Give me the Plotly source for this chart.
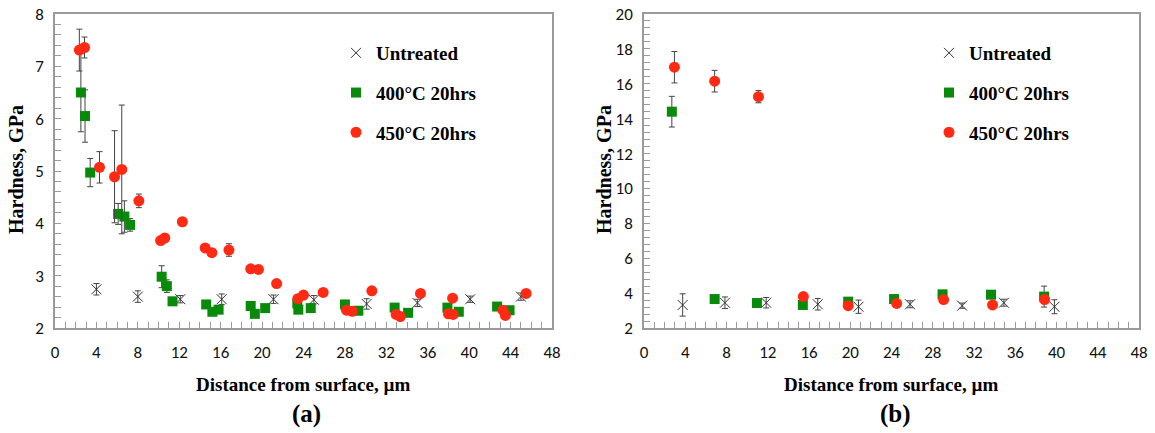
import plotly.graph_objects as go

# ---------------- data: panel (a) ----------------
a_untreated_x = [4.0, 8.0, 12.1, 16.1, 21.1, 25.0, 30.1, 35.0, 40.1, 45.0]
a_untreated_y = [2.74, 2.60, 2.55, 2.55, 2.55, 2.54, 2.46, 2.48, 2.55, 2.60]
a_untreated_e = [0.11, 0.11, 0.07, 0.10, 0.08, 0.08, 0.10, 0.07, 0.06, 0.07]

a_400_x = [2.5, 2.9, 3.4, 6.1, 6.7, 7.25, 10.3, 10.8, 11.35, 14.6, 15.2, 15.8, 18.9, 19.3, 20.3,
           23.4, 23.5, 24.7, 28.0, 29.3, 32.8, 34.1, 37.9, 39.0, 42.7, 43.9]
a_400_y = [6.50, 6.05, 4.97, 4.18, 4.13, 3.97, 2.98, 2.80, 2.51, 2.45, 2.31, 2.35, 2.42, 2.27, 2.38,
           2.47, 2.35, 2.38, 2.45, 2.33, 2.39, 2.29, 2.39, 2.31, 2.41, 2.34]
a_400_e = [0.75, 0.50, 0.27, 0.20, 0.30, 0.12, 0.21, 0.12, 0.0, 0.0, 0.0, 0.0, 0.0, 0.0, 0.0,
           0.04, 0.0, 0.0, 0.0, 0.0, 0.0, 0.0, 0.0, 0.0, 0.04, 0.0]

a_450_x = [2.35, 2.85, 4.3, 5.75, 6.45, 8.1, 10.2, 10.6, 12.3, 14.5, 15.15, 16.8, 18.9, 19.65, 21.4,
           23.45, 24.0, 25.9, 28.15, 28.7, 30.6, 32.95, 33.35, 35.3, 38.0, 38.45, 38.4, 43.25, 43.5, 45.5]
a_450_y = [7.31, 7.36, 5.07, 4.89, 5.03, 4.43, 3.67, 3.72, 4.03, 3.53, 3.44, 3.49, 3.13, 3.12, 2.85,
           2.56, 2.63, 2.68, 2.34, 2.32, 2.71, 2.26, 2.22, 2.66, 2.27, 2.26, 2.57, 2.34, 2.24, 2.66]
a_450_e = [0.40, 0.20, 0.30, 0.88, 1.23, 0.13, 0.03, 0.03, 0.0, 0.0, 0.0, 0.12, 0.05, 0.05, 0.0,
           0.03, 0.06, 0.0, 0.0, 0.0, 0.0, 0.0, 0.0, 0.0, 0.0, 0.0, 0.05, 0.05, 0.0, 0.0]

# ---------------- data: panel (b) ----------------
b_untreated_x = [3.75, 7.85, 11.85, 16.85, 20.8, 25.8, 30.85, 34.9, 39.8]
b_untreated_y = [3.32, 3.45, 3.45, 3.36, 3.22, 3.36, 3.28, 3.45, 3.22]
b_untreated_e = [0.64, 0.33, 0.30, 0.33, 0.38, 0.20, 0.15, 0.20, 0.40]

b_400_x = [2.7, 6.85, 10.95, 15.4, 19.8, 24.25, 28.95, 33.65, 38.8]
b_400_y = [14.4, 3.66, 3.43, 3.32, 3.51, 3.66, 3.93, 3.91, 3.80]
b_400_e = [0.88, 0.05, 0.05, 0.05, 0.05, 0.10, 0.10, 0.05, 0.60]

b_450_x = [2.95, 6.85, 11.1, 15.45, 19.8, 24.5, 29.05, 33.8, 38.85]
b_450_y = [16.95, 16.15, 15.26, 3.80, 3.28, 3.41, 3.63, 3.32, 3.63]
b_450_e = [0.90, 0.62, 0.35, 0.05, 0.05, 0.05, 0.05, 0.05, 0.10]

x_ticks = list(range(0, 49, 4))
series_names = ["Untreated", "400°C 20hrs", "450°C 20hrs"]

RED = "#ff2a14"
GREEN = "#0a8a0a"
GRAY = "#333333"
AXIS = "#9a9a9a"
SERIF = "Liberation Serif, Times New Roman, serif"
TICKFONT = "Carlito, Calibri, Lato, sans-serif"

fig = go.Figure()


def err(vals):
    return dict(type="data", array=vals, visible=True, color="#444444", thickness=1, width=3)


def add_panel(xa, ya, legend, ux, uy, ue, gx, gy, ge, rx, ry, re, tag):
    fig.add_trace(go.Scatter(
        x=ux, y=uy, error_y=err(ue), mode="markers", name="<b>" + series_names[0] + "</b>",
        marker=dict(symbol="x-thin-open", size=10, color=GRAY, line=dict(color=GRAY, width=1)),
        xaxis=xa, yaxis=ya, legend=legend, legendgroup=tag + "u"))
    fig.add_trace(go.Scatter(
        x=gx, y=gy, error_y=err(ge), mode="markers", name="<b>" + series_names[1] + "</b>",
        marker=dict(symbol="square", size=10, color=GREEN, line=dict(width=0)),
        xaxis=xa, yaxis=ya, legend=legend, legendgroup=tag + "g"))
    fig.add_trace(go.Scatter(
        x=rx, y=ry, error_y=err(re), mode="markers", name="<b>" + series_names[2] + "</b>",
        marker=dict(symbol="circle", size=11, color=RED, line=dict(width=0)),
        xaxis=xa, yaxis=ya, legend=legend, legendgroup=tag + "r"))


add_panel("x", "y", "legend", a_untreated_x, a_untreated_y, a_untreated_e,
          a_400_x, a_400_y, a_400_e, a_450_x, a_450_y, a_450_e, "a")
add_panel("x2", "y2", "legend2", b_untreated_x, b_untreated_y, b_untreated_e,
          b_400_x, b_400_y, b_400_e, b_450_x, b_450_y, b_450_e, "b")

W, H = 1155, 433
y_dom = [(H - 328) / H, (H - 14) / H]

xcommon = dict(range=[0, 48], tickvals=x_ticks, ticks="inside", ticklen=6, tickcolor=AXIS,
               showline=True, linecolor=AXIS, linewidth=1.5, mirror=True, showgrid=False,
               zeroline=False, tickfont=dict(family=TICKFONT, size=17, color="#111111"),
               ticklabelstandoff=8, automargin=False,
               minor=dict(dtick=1, ticks="inside", ticklen=6, tickcolor=AXIS))
ycommon = dict(ticks="inside", ticklen=6, tickcolor=AXIS,
               showline=True, linecolor=AXIS, linewidth=1.5, mirror=True, showgrid=False,
               zeroline=False, tickfont=dict(family=TICKFONT, size=17, color="#111111"),
               ticklabelstandoff=6, automargin=False)

leg_common = dict(font=dict(family=SERIF, size=19, color="black"), bgcolor="rgba(0,0,0,0)",
                  tracegroupgap=12, itemwidth=30, xanchor="left", yanchor="top")

fig.update_layout(
    template="none",
    width=W, height=H, margin=dict(l=0, r=0, t=0, b=0, pad=0, autoexpand=False),
    paper_bgcolor="white", plot_bgcolor="white",
    xaxis=dict(domain=[55 / W, 552 / W], anchor="y", **xcommon),
    yaxis=dict(domain=y_dom, anchor="x", range=[2, 8], dtick=1,
               minor=dict(dtick=0.2, ticks="inside", ticklen=6, tickcolor=AXIS), **ycommon),
    xaxis2=dict(domain=[644 / W, 1139 / W], anchor="y2", **xcommon),
    yaxis2=dict(domain=y_dom, anchor="x2", range=[2, 20], dtick=2,
                minor=dict(dtick=0.4, ticks="inside", ticklen=6, tickcolor=AXIS), **ycommon),
    legend=dict(x=336 / W, y=(H - 34) / H, **leg_common),
    legend2=dict(x=929 / W, y=(H - 34) / H, **leg_common),
)

ann_font = dict(family=SERIF, size=19, color="black")
annotations = [
    dict(text="<b>Distance from surface, µm</b>", x=303 / W, y=(H - 384) / H, font=ann_font),
    dict(text="<b>Distance from surface, µm</b>", x=891 / W, y=(H - 384) / H, font=ann_font),
    dict(text="<b>Hardness, GPa</b>", x=16 / W, y=(H - 170) / H, textangle=-90,
         font=dict(family=SERIF, size=20, color="black")),
    dict(text="<b>Hardness, GPa</b>", x=604 / W, y=(H - 170) / H, textangle=-90,
         font=dict(family=SERIF, size=20, color="black")),
    dict(text="<b>(a)</b>", x=306 / W, y=(H - 414) / H, font=dict(family=SERIF, size=25, color="black")),
    dict(text="<b>(b)</b>", x=895 / W, y=(H - 414) / H, font=dict(family=SERIF, size=25, color="black")),
]
for a in annotations:
    a.update(xref="paper", yref="paper", showarrow=False, xanchor="center", yanchor="middle")
fig.update_layout(annotations=annotations)

fig.write_html("out.html",
               post_script="document.body.style.margin='0';document.body.style.overflow='hidden';")
